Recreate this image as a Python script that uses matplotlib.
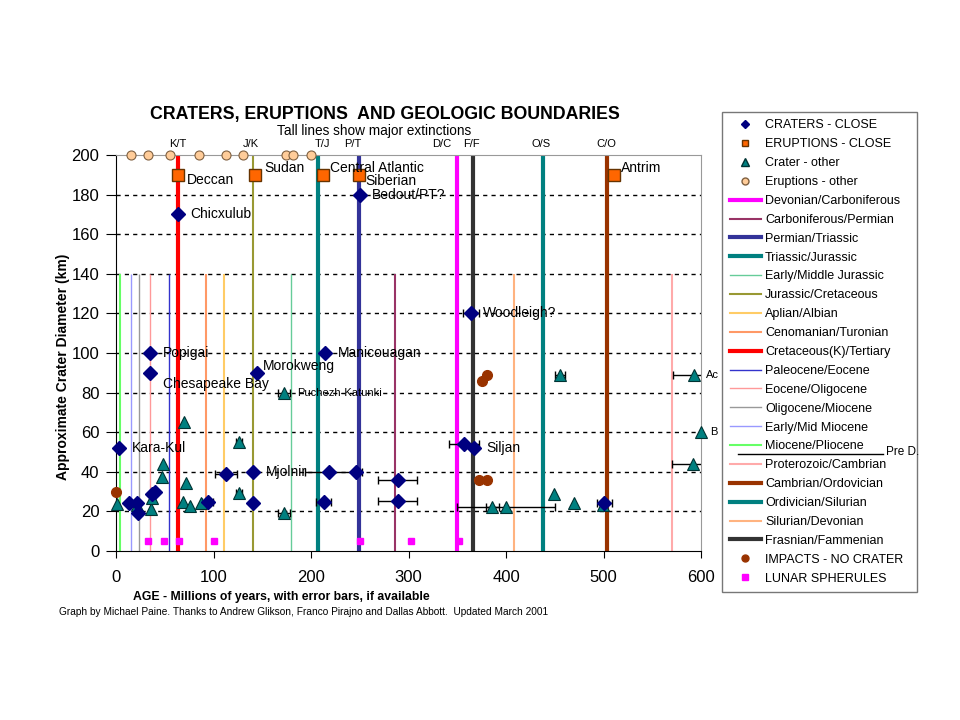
import numpy as np
import matplotlib
matplotlib.use('Agg')
from matplotlib import pyplot as plt
from matplotlib.lines import Line2D

plt.rcParams['font.family'] = ['Liberation Sans', 'DejaVu Sans']

# CRATERS - CLOSE (age Myr, diameter km, age error)
crater_age = [64, 250, 35, 35, 145, 214, 3, 364, 357, 367, 113, 141, 218, 246, 141, 94, 213, 13, 22, 23, 37, 40, 289, 289, 501]
crater_diam = [170, 180, 100, 90, 90, 100, 52, 120, 54, 52, 39, 40, 40, 40, 24, 25, 25, 24, 24, 19, 29, 30, 36, 25.5, 24]
crater_err_lo = [0, 0, 0, 0, 0, 0, 0, 8, 15, 0, 11, 0, 24, 0, 0, 5.5, 7.7, 0, 0, 0, 0, 0, 20, 20, 8]
crater_err_hi = [0, 0, 0, 0, 0, 0, 0, 8, 15, 0, 11, 0, 34, 0, 0, 5.5, 7.7, 0, 0, 0, 0, 0, 20, 20, 8]

# ERUPTIONS - CLOSE
erupt_age = [64, 143, 212, 249, 511]
erupt_diam = [190, 190, 190, 190, 190]
erupt_names = ['Deccan', 'Sudan', 'Central Atlantic', 'Siberian', 'Antrim']

# Crater - other
other_age = [1, 22, 36, 37, 47, 48, 70, 72, 69, 76, 87, 126, 126, 172, 172, 386, 400, 449, 470, 499, 455, 593, 592, 600]
other_diam = [23.5, 23, 21, 27, 37.5, 44, 65, 34.5, 25, 22.5, 24, 55, 29.5, 80, 19, 22, 22, 29, 24.4, 23, 89, 89, 44, 60]
other_err = [0, 0, 0, 0, 0, 0, 0, 0, 0, 0, 0, 3, 3, 6, 6, 7, 50, 0, 0, 0, 5, 22, 22, 0]

# Eruptions - other
erupt_other_age = [15, 33, 55, 85, 113, 130, 174, 182, 200]
erupt_other_diam = [200] * 9

# IMPACTS - NO CRATER
impact_age = [0, 372, 380, 375, 381]
impact_diam = [30, 36, 36, 86, 89]

# LUNAR SPHERULES
lunar_age = [33, 49, 65, 101, 250, 303, 352]
lunar_diam = [5] * 7

# geologic boundaries (legend order)
bound_names = ['Devonian/Carboniferous', 'Carboniferous/Permian', 'Permian/Triassic', 'Triassic/Jurassic',
               'Early/Middle Jurassic', 'Jurassic/Cretaceous', 'Aplian/Albian', 'Cenomanian/Turonian',
               'Cretaceous(K)/Tertiary', 'Paleocene/Eocene', 'Eocene/Oligocene', 'Oligocene/Miocene',
               'Early/Mid Miocene', 'Miocene/Pliocene', 'Proterozoic/Cambrian', 'Cambrian/Ordovician',
               'Ordivician/Silurian', 'Silurian/Devonian', 'Frasnian/Fammenian']
bound_age = [350, 286, 249, 207, 179, 140, 111, 92, 64, 54, 35, 24, 15, 4, 570, 504, 438, 408, 366]
bound_top = [200, 140, 200, 200, 140, 200, 140, 140, 200, 140, 140, 140, 140, 140, 140, 200, 200, 140, 200]
bound_color = ['#FF00FF', '#993366', '#333399', '#008080', '#66CC99', '#999933', '#FFCC66', '#FF9966',
               '#FF0000', '#3333CC', '#FF9999', '#999999', '#9999FF', '#66FF66', '#FFAAAA', '#993300',
               '#008080', '#FFB380', '#333333']
bound_lw = [3, 1.5, 3, 3, 1, 1.5, 1.5, 1.5, 3, 1, 1, 1, 1, 1.5, 1.5, 3, 3, 1.5, 3]

extinct_labels = ['K/T', 'J/K', 'T/J', 'P/T', 'D/C', 'F/F', 'O/S', 'C/O']
extinct_label_age = [63, 138, 212, 243, 334, 365, 436, 503]

fig = plt.figure(figsize=(9.6, 7.2), dpi=100)
ax = fig.add_axes([116 / 960, 1 - 551 / 720, 585 / 960, 396 / 720])

for a, top, c, lw in zip(bound_age, bound_top, bound_color, bound_lw):
    ax.plot([a, a], [0, top], color=c, lw=lw, zorder=2, solid_capstyle='butt')

for y in range(20, 200, 20):
    ax.axhline(y, color='black', lw=1, ls=(0, (3, 3)), zorder=1)

# error bars
lo = np.array(crater_err_lo)
hi = np.array(crater_err_hi)
m = hi > 0
ax.errorbar(np.array(crater_age)[m], np.array(crater_diam)[m], xerr=[lo[m], hi[m]], fmt='none',
            ecolor='black', elinewidth=1, capsize=3, zorder=3)
oe = np.array(other_err)
m = oe > 0
ax.errorbar(np.array(other_age)[m], np.array(other_diam)[m], xerr=oe[m], fmt='none',
            ecolor='black', elinewidth=1, capsize=3, zorder=3)

ax.plot(lunar_age, lunar_diam, 's', color='#FF00FF', ms=5, mec='#FF00FF', zorder=4, clip_on=False)
ax.plot(impact_age, impact_diam, 'o', color='#993300', ms=7, mec='#993300', zorder=4, clip_on=False)
ax.plot(other_age, other_diam, '^', color='#008080', ms=9, mec='#003333', mew=0.8, zorder=5, clip_on=False)
ax.plot(crater_age, crater_diam, 'D', color='#000080', ms=7.5, mec='#000080', zorder=6, clip_on=False)
ax.plot(erupt_age, erupt_diam, 's', color='#FF6600', ms=8, mec='#663300', mew=1, zorder=6)
ax.plot(erupt_other_age, erupt_other_diam, 'o', color='#FFCC99', ms=6.5, mec='#806040', mew=0.8,
        zorder=6, clip_on=False)

# point labels
for i, name in enumerate(erupt_names):
    off = [(8, -5), (9, 7), (7, 7), (7, -6), (7, 7)][i]
    ax.annotate(name, (erupt_age[i], erupt_diam[i]), xytext=off, textcoords='offset pixels',
                fontsize=10, va='center', ha='left', zorder=7)

crater_labels = [(0, 'Chicxulub', (12, 0)), (1, 'Bedout/PT?', (12, 0)), (2, 'Popigai', (13, 0)),
                 (3, 'Chesapeake Bay', (13, -11)), (4, 'Morokweng', (5, 7)), (5, 'Manicouagan', (13, 0)),
                 (6, 'Kara-Kul', (13, 0)), (7, 'Woodleigh?', (12, 0)), (9, 'Siljan', (13, 0)),
                 (11, 'Mjolnir', (12, 0))]
for i, name, off in crater_labels:
    ax.annotate(name, (crater_age[i], crater_diam[i]), xytext=off, textcoords='offset pixels',
                fontsize=10, va='center', ha='left', zorder=7)

other_labels = [(13, 'Puchezh-Katunki', (13, 0), 8), (21, 'Ac', (12, 0), 8), (23, 'B', (9, 0), 8)]
for i, name, off, fs in other_labels:
    ax.annotate(name, (other_age[i], other_diam[i]), xytext=off, textcoords='offset pixels',
                fontsize=fs, va='center', ha='left', zorder=7)

for lab, a in zip(extinct_labels, extinct_label_age):
    ax.text(a, 205.8, lab, fontsize=8, ha='center', va='center', clip_on=False)

ax.set_xlim(0, 600)
ax.set_ylim(0, 200)
ax.set_xticks(range(0, 601, 100))
ax.set_yticks(range(0, 201, 20))
ax.tick_params(axis='x', labelsize=12, length=5, pad=9)
ax.tick_params(axis='y', labelsize=12, length=7, pad=5)
for s in ['top', 'right']:
    ax.spines[s].set_color('#999999')
ax.set_ylabel('Approximate Crater Diameter (km)', fontsize=10, fontweight='bold')
ax.yaxis.set_label_coords(-0.078, 0.465)

fig.text(385 / 960, 1 - 115 / 720, 'CRATERS, ERUPTIONS  AND GEOLOGIC BOUNDARIES', fontsize=12.8,
         fontweight='bold', ha='center', va='center')
fig.text(374 / 960, 1 - 131 / 720, 'Tall lines show major extinctions', fontsize=9.8,
         ha='center', va='center')
fig.text(281 / 960, 1 - 597 / 720, 'AGE - Millions of years, with error bars, if available',
         fontsize=8.8, fontweight='bold', ha='center', va='center')
fig.text(304 / 960, 1 - 612 / 720,
         'Graph by Michael Paine. Thanks to Andrew Glikson, Franco Pirajno and Dallas Abbott.  Updated March 2001',
         fontsize=7.3, ha='center', va='center')

# legend
handles = [Line2D([], [], ls='none', marker='D', color='#000080', ms=4.5),
           Line2D([], [], ls='none', marker='s', color='#FF6600', mec='#663300', ms=5),
           Line2D([], [], ls='none', marker='^', color='#008080', mec='#003333', ms=5.5),
           Line2D([], [], ls='none', marker='o', color='#FFCC99', mec='#806040', ms=5)]
labels = ['CRATERS - CLOSE', 'ERUPTIONS - CLOSE', 'Crater - other', 'Eruptions - other']
for n, c, lw in zip(bound_names, bound_color, bound_lw):
    handles.append(Line2D([], [], color=c, lw=lw))
    labels.append(n)
handles += [Line2D([], [], ls='none', marker='o', color='#993300', ms=5),
            Line2D([], [], ls='none', marker='s', color='#FF00FF', ms=5)]
labels += ['IMPACTS - NO CRATER', 'LUNAR SPHERULES']
leg = fig.legend(handles, labels, loc='upper left',
                 bbox_to_anchor=(722 / 960, 1 - 112 / 720 - 0.01, 195 / 960, 0.01),
                 mode='expand', fontsize=9, frameon=True, fancybox=False, edgecolor='#555555',
                 handlelength=2.5, handletextpad=0.35, labelspacing=0.55, borderpad=0.6, borderaxespad=0)
leg.get_frame().set_linewidth(1)

fig.add_artist(Line2D([738 / 960, 883 / 960], [1 - 454 / 720, 1 - 454 / 720], color='black', lw=1,
                      transform=fig.transFigure, zorder=10))
fig.text(886 / 960, 1 - 452 / 720, 'Pre D.', fontsize=8.5, ha='left', va='center', zorder=10)

fig.savefig('out.png', dpi=100)
